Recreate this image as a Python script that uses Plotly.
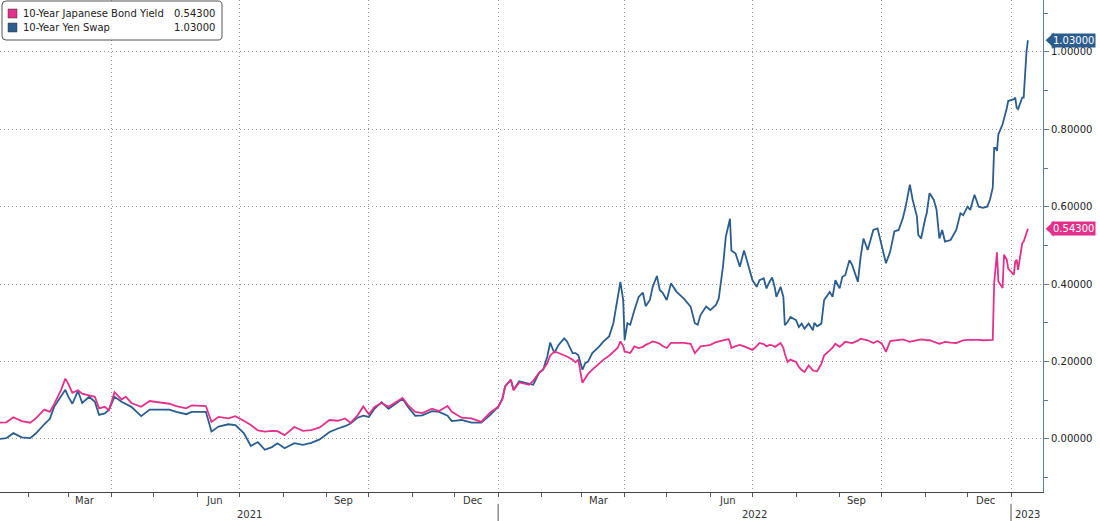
import pandas as pd
import plotly.graph_objects as go

# 10-year JGB yield vs 10-year yen swap rate
dates = [
    "2021-01-11", "2021-01-16", "2021-01-21", "2021-01-27", "2021-02-02", "2021-02-06",
    "2021-02-12", "2021-02-16", "2021-02-19", "2021-02-24", "2021-02-27", "2021-03-01",
    "2021-03-04", "2021-03-08", "2021-03-11", "2021-03-16", "2021-03-20", "2021-03-23",
    "2021-03-27", "2021-03-30", "2021-04-03", "2021-04-08", "2021-04-11", "2021-04-15",
    "2021-04-22", "2021-04-28", "2021-05-06", "2021-05-12", "2021-05-17", "2021-05-24",
    "2021-05-28", "2021-06-07", "2021-06-11", "2021-06-16", "2021-06-23", "2021-06-28",
    "2021-07-04", "2021-07-09", "2021-07-14", "2021-07-19", "2021-07-24", "2021-07-28",
    "2021-08-02", "2021-08-09", "2021-08-15", "2021-08-21", "2021-08-27", "2021-09-03",
    "2021-09-09", "2021-09-14", "2021-09-18", "2021-09-23", "2021-09-27", "2021-10-01",
    "2021-10-05", "2021-10-10", "2021-10-15", "2021-10-19", "2021-10-25", "2021-10-29",
    "2021-11-03", "2021-11-08", "2021-11-15", "2021-11-20", "2021-11-26", "2021-11-29",
    "2021-12-06", "2021-12-13", "2021-12-20", "2021-12-26", "2022-01-01",
    "2022-01-04", "2022-01-06", "2022-01-10", "2022-01-12", "2022-01-16", "2022-01-19",
    "2022-01-23", "2022-01-26", "2022-01-30", "2022-02-02", "2022-02-05", "2022-02-07",
    "2022-02-10", "2022-02-13", "2022-02-17", "2022-02-19", "2022-02-23", "2022-02-25",
    "2022-02-27", "2022-03-02", "2022-03-04", "2022-03-06", "2022-03-09", "2022-03-14",
    "2022-03-17", "2022-03-21", "2022-03-24", "2022-03-27", "2022-03-29", "2022-03-31",
    "2022-04-01", "2022-04-03", "2022-04-05", "2022-04-08", "2022-04-11", "2022-04-14",
    "2022-04-16", "2022-04-19", "2022-04-21", "2022-04-24", "2022-04-26", "2022-04-28",
    "2022-05-01", "2022-05-04", "2022-05-08", "2022-05-13", "2022-05-18", "2022-05-21",
    "2022-05-23", "2022-05-25", "2022-05-29", "2022-06-01", "2022-06-05", "2022-06-07",
    "2022-06-10", "2022-06-12", "2022-06-14", "2022-06-15", "2022-06-16", "2022-06-19",
    "2022-06-22", "2022-06-25", "2022-06-29", "2022-07-01", "2022-07-04", "2022-07-06",
    "2022-07-09", "2022-07-11", "2022-07-13", "2022-07-15", "2022-07-17", "2022-07-18",
    "2022-07-21", "2022-07-23", "2022-07-24", "2022-07-26", "2022-07-28", "2022-08-01",
    "2022-08-03", "2022-08-05", "2022-08-07", "2022-08-10", "2022-08-13", "2022-08-14",
    "2022-08-16", "2022-08-19", "2022-08-21", "2022-08-25", "2022-08-27", "2022-08-29",
    "2022-09-01", "2022-09-03", "2022-09-05", "2022-09-08", "2022-09-10", "2022-09-14",
    "2022-09-16", "2022-09-18", "2022-09-21", "2022-09-25", "2022-09-28", "2022-10-01",
    "2022-10-04", "2022-10-07", "2022-10-10", "2022-10-13", "2022-10-16", "2022-10-18",
    "2022-10-21", "2022-10-23", "2022-10-26", "2022-10-27", "2022-10-29", "2022-11-01",
    "2022-11-02", "2022-11-04", "2022-11-07", "2022-11-09", "2022-11-11", "2022-11-13",
    "2022-11-15", "2022-11-19", "2022-11-21", "2022-11-23", "2022-11-26", "2022-11-28",
    "2022-12-01", "2022-12-03", "2022-12-06", "2022-12-09", "2022-12-12", "2022-12-15",
    "2022-12-17", "2022-12-19", "2022-12-20", "2022-12-21", "2022-12-22", "2022-12-23",
    "2022-12-26", "2022-12-27", "2022-12-28", "2022-12-29", "2022-12-30", "2023-01-03",
    "2023-01-04", "2023-01-05", "2023-01-06", "2023-01-09", "2023-01-10", "2023-01-11",
    "2023-01-12", "2023-01-13",
]

jgb_10y = [
    0.042, 0.043, 0.056, 0.046, 0.042, 0.053,
    0.076, 0.070, 0.090, 0.127, 0.156, 0.143,
    0.119, 0.126, 0.117, 0.113, 0.109, 0.079,
    0.083, 0.074, 0.121, 0.102, 0.109, 0.093,
    0.083, 0.098, 0.093, 0.091, 0.085, 0.079,
    0.087, 0.085, 0.044, 0.057, 0.053, 0.059,
    0.047, 0.036, 0.022, 0.019, 0.021, 0.020,
    0.010, 0.031, 0.021, 0.023, 0.030, 0.049,
    0.047, 0.053, 0.042, 0.061, 0.084, 0.064,
    0.083, 0.093, 0.083, 0.093, 0.106, 0.087,
    0.070, 0.067, 0.078, 0.072, 0.085, 0.070,
    0.055, 0.053, 0.044, 0.067, 0.083,
    0.102, 0.136, 0.153, 0.126, 0.146, 0.143,
    0.140, 0.150, 0.170, 0.180, 0.196, 0.215,
    0.226, 0.222, 0.217, 0.213, 0.205, 0.198,
    0.205, 0.145, 0.157, 0.168, 0.179, 0.196,
    0.205, 0.215, 0.225, 0.235, 0.252, 0.240,
    0.226, 0.224, 0.222, 0.239, 0.235, 0.238,
    0.243, 0.248, 0.252, 0.249, 0.246, 0.240,
    0.235, 0.248, 0.248, 0.248, 0.246, 0.222,
    0.230, 0.239, 0.241, 0.243, 0.250, 0.252,
    0.256, 0.257, 0.258, 0.250, 0.235, 0.240,
    0.243, 0.239, 0.232, 0.230, 0.240, 0.248,
    0.245, 0.239, 0.243, 0.242, 0.238, 0.240,
    0.248, 0.235, 0.220, 0.199, 0.205, 0.199,
    0.186, 0.178, 0.173, 0.190, 0.177, 0.176,
    0.175, 0.194, 0.216, 0.229, 0.236, 0.246,
    0.238, 0.244, 0.251, 0.249, 0.248, 0.254,
    0.259, 0.257, 0.255, 0.248, 0.253, 0.247,
    0.225, 0.253, 0.255, 0.256, 0.257, 0.255,
    0.251, 0.253, 0.256, 0.257, 0.257, 0.256,
    0.255, 0.255, 0.252, 0.250, 0.246, 0.248,
    0.251, 0.249, 0.248, 0.248, 0.252, 0.255,
    0.256, 0.256, 0.257, 0.256, 0.255, 0.255,
    0.255, 0.256, 0.403, 0.450, 0.482, 0.407,
    0.390, 0.476, 0.470, 0.463, 0.440, 0.424,
    0.459, 0.463, 0.437, 0.506, 0.510, 0.523,
    0.530, 0.543,
]

swap_10y = [
    0.000, 0.002, 0.015, 0.004, 0.002, 0.014,
    0.038, 0.052, 0.083, 0.109, 0.127, 0.110,
    0.091, 0.124, 0.093, 0.109, 0.096, 0.062,
    0.066, 0.075, 0.109, 0.096, 0.090, 0.083,
    0.059, 0.076, 0.076, 0.076, 0.070, 0.064,
    0.070, 0.070, 0.019, 0.032, 0.038, 0.036,
    0.015, -0.018, -0.008, -0.028, -0.021, -0.011,
    -0.024, -0.011, -0.015, -0.010, -0.001, 0.018,
    0.027, 0.033, 0.040, 0.055, 0.060, 0.057,
    0.078, 0.095, 0.078, 0.089, 0.104, 0.082,
    0.060, 0.061, 0.072, 0.070, 0.060, 0.046,
    0.049, 0.042, 0.042, 0.061, 0.083,
    0.104, 0.136, 0.153, 0.127, 0.149, 0.146,
    0.143, 0.140, 0.170, 0.179, 0.213, 0.249,
    0.222, 0.243, 0.260, 0.252, 0.222, 0.222,
    0.217, 0.179, 0.196, 0.200, 0.222, 0.239,
    0.252, 0.265, 0.299, 0.359, 0.406, 0.359,
    0.256, 0.299, 0.295, 0.333, 0.367, 0.378,
    0.343, 0.359, 0.393, 0.421, 0.385, 0.378,
    0.359, 0.402, 0.380, 0.363, 0.342, 0.299,
    0.295, 0.320, 0.342, 0.333, 0.346, 0.363,
    0.445, 0.522, 0.556, 0.569, 0.487, 0.479,
    0.445, 0.487, 0.436, 0.410, 0.393, 0.410,
    0.415, 0.389, 0.405, 0.417, 0.389, 0.367,
    0.393, 0.367, 0.294, 0.302, 0.315, 0.307,
    0.289, 0.298, 0.285, 0.298, 0.281, 0.300,
    0.291, 0.298, 0.359, 0.380, 0.367, 0.410,
    0.389, 0.419, 0.423, 0.462, 0.449, 0.406,
    0.471, 0.518, 0.488, 0.540, 0.544, 0.497,
    0.454, 0.484, 0.536, 0.540, 0.570, 0.600,
    0.657, 0.618, 0.575, 0.527, 0.518, 0.570,
    0.583, 0.635, 0.618, 0.592, 0.518, 0.540,
    0.510, 0.514, 0.527, 0.540, 0.583, 0.578,
    0.600, 0.592, 0.631, 0.600, 0.597, 0.600,
    0.618, 0.649, 0.752, 0.752, 0.744, 0.787,
    0.813, 0.825, 0.839, 0.855, 0.873, 0.878,
    0.882, 0.856, 0.852, 0.882, 0.882, 0.951,
    1.000, 1.030,
]

series_names = ["10-Year Japanese Bond Yield", "10-Year Yen Swap"]
series_colors = ["#e3318b", "#2b5d8e"]
last_values = [jgb_10y[-1], swap_10y[-1]]

y_ticks = [0.0, 0.2, 0.4, 0.6, 0.8, 1.0]
y_ticktext = ["%.5f" % v for v in y_ticks]

month_names = ["Mar", "Jun", "Sep", "Dec", "Mar", "Jun", "Sep", "Dec"]
month_mids = ["2021-03-13", "2021-06-13", "2021-09-13", "2021-12-14",
              "2022-03-14", "2022-06-13", "2022-09-13", "2022-12-14"]
years = ["2021", "2022", "2023"]

x_start = pd.Timestamp("2021-01-11 12:00")
x_end = pd.Timestamp("2023-01-23 18:00")

fig = go.Figure()
fig.add_trace(go.Scatter(x=dates, y=swap_10y, mode="lines", name=series_names[1],
                         line=dict(color=series_colors[1], width=1.8)))
fig.add_trace(go.Scatter(x=dates, y=jgb_10y, mode="lines", name=series_names[0],
                         line=dict(color=series_colors[0], width=1.8)))

grid = dict(showgrid=True, gridcolor="#9a9a9a", gridwidth=1, griddash="1px,3px")

fig.update_xaxes(type="date", range=[x_start, x_end], tick0="2021-01-01", dtick="M3",
                 showticklabels=False, ticks="outside", ticklen=4, tickcolor="#555",
                 showline=True, linecolor="#444", linewidth=1, zeroline=False,
                 minor=dict(tick0="2021-01-01", dtick="M1", ticks="outside", ticklen=4,
                            tickcolor="#555", showgrid=False),
                 **grid)
fig.update_yaxes(side="right", range=[-0.137, 1.134], tickvals=y_ticks, ticktext=y_ticktext,
                 ticks="outside", ticklen=5, tickcolor="#5d7d9a",
                 showline=True, linecolor="#5d7d9a", linewidth=1, zeroline=False,
                 tickfont=dict(color="#222"),
                 minor=dict(tick0=0, dtick=0.1, ticks="outside", ticklen=4,
                            tickcolor="#5d7d9a", showgrid=False),
                 **grid)

annotations = []
shapes = []

# month labels centred in their month, years centred on the visible span
for name, mid in zip(month_names, month_mids):
    annotations.append(dict(x=mid, y=-0.018, xref="x", yref="paper", text=name,
                            showarrow=False, yanchor="middle", font=dict(size=10, color="#333")))
for yr in years:
    a = max(x_start, pd.Timestamp(yr + "-01-01"))
    b = min(x_end, pd.Timestamp(str(int(yr) + 1) + "-01-01"))
    annotations.append(dict(x=a + (b - a) / 2, y=-0.045, xref="x", yref="paper", text=yr,
                            showarrow=False, yanchor="middle", font=dict(size=10, color="#333")))
    if pd.Timestamp(yr + "-01-01") > x_start:
        shapes.append(dict(type="line", xref="x", yref="paper", x0=yr + "-01-01", x1=yr + "-01-01",
                           y0=-0.024, y1=-0.06, line=dict(color="#555", width=1)))

# last-value tags on the right axis
for val, col in zip(last_values, series_colors):
    annotations.append(dict(x=1, y=val, xref="paper", yref="y", text="%.5f" % val,
                            showarrow=False, xanchor="left", xshift=8, yanchor="middle",
                            bgcolor=col, borderpad=1, font=dict(size=10, color="white")))
    shapes.append(dict(type="path", xref="paper", yref="y", fillcolor=col, line=dict(width=0),
                       path="M 1.0025 %f L 1.0105 %f L 1.0105 %f Z" % (val, val + 0.02, val - 0.02)))

# legend box top left
px_w, px_h = 1043.0, 492.0
def px(x, y):
    return x / px_w, 1 - y / px_h

x0, y0 = px(2, 1)
x1, y1 = px(222, 40)
rx, ry = 4 / px_w, 4 / px_h
shapes.append(dict(type="path", xref="paper", yref="paper", fillcolor="white",
                   line=dict(color="#555", width=1),
                   path=("M %f %f L %f %f Q %f %f %f %f L %f %f Q %f %f %f %f "
                         "L %f %f Q %f %f %f %f L %f %f Q %f %f %f %f Z") % (
                       x0 + rx, y0, x1 - rx, y0, x1, y0, x1, y0 - ry, x1, y1 + ry,
                       x1, y1, x1 - rx, y1, x0 + rx, y1, x0, y1, x0, y1 + ry,
                       x0, y0 - ry, x0, y0, x0 + rx, y0)))
for i, (name, col, val) in enumerate(zip(series_names, series_colors, last_values)):
    row = 13.5 + i * 14
    sx0, sy0 = px(8, row - 4.5)
    sx1, sy1 = px(17, row + 4.5)
    shapes.append(dict(type="rect", xref="paper", yref="paper", x0=sx0, x1=sx1, y0=sy0, y1=sy1,
                       fillcolor=col, line=dict(color="#333", width=0.5)))
    tx, ty = px(21, row)
    annotations.append(dict(x=tx, y=ty, xref="paper", yref="paper", text=name, showarrow=False,
                            xanchor="left", yanchor="middle", font=dict(size=10, color="#222")))
    vx, _ = px(217, row)
    annotations.append(dict(x=vx, y=ty, xref="paper", yref="paper", text="%.5f" % val,
                            showarrow=False, xanchor="right", yanchor="middle",
                            font=dict(size=10, color="#222")))

fig.update_layout(width=1100, height=521, margin=dict(l=0, r=57, t=0, b=29),
                  plot_bgcolor="white", paper_bgcolor="white", showlegend=False,
                  font=dict(family="DejaVu Sans", size=10, color="#222"),
                  annotations=annotations, shapes=shapes)

# page body has a default 8px margin; drop it so the figure fills the window
fig.write_html("out.html", config={"displayModeBar": False},
               post_script="document.body.style.margin='0';")
